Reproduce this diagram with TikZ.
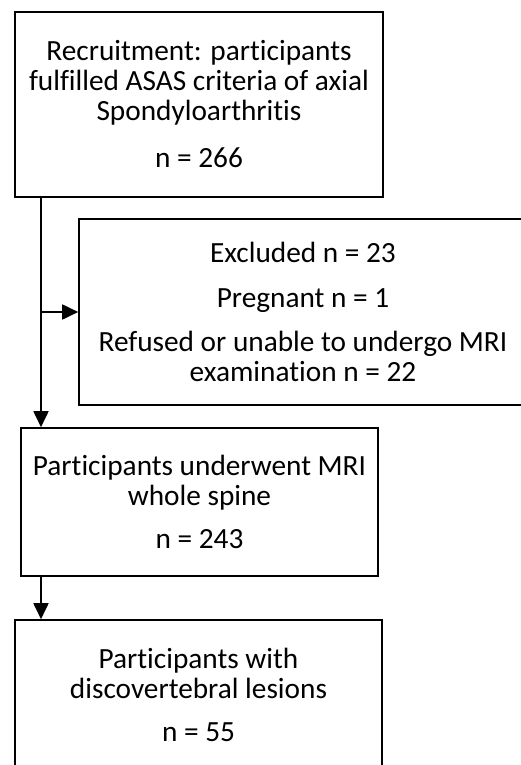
\documentclass[tikz,border=0pt]{standalone}
\usepackage{fontspec}
\setmainfont{Carlito}[RawFeature={-liga;-clig}]
\usepackage{tikz}
\usetikzlibrary{arrows.meta, positioning}

\begin{document}
\begin{tikzpicture}[x=1pt,y=-1pt]
        \useasboundingbox (0,0) rectangle (520,765);
        \begin{scope}[every node/.style={draw=black,line width=1.6pt,rectangle,align=center,inner sep=0pt,
            font=\fontsize{29.3}{30}\selectfont}]
          \node[minimum width=368pt,minimum height=185pt] (rec) at (199,104.5)
            {Recruitment: participants\\fulfilled ASAS criteria of axial\\Spondyloarthritis\\[17pt]n = 266};
          \node[minimum width=448pt,minimum height=186pt] (excl) at (303,312)
            {Excluded n = 23\\[15pt]Pregnant n = 1\\[14pt]Refused or unable to undergo MRI\\examination n = 22};
          \node[minimum width=357pt,minimum height=148pt] (mri) at (199.5,502)
            {Participants underwent MRI\\whole spine\\[13pt]n = 243};
          \node[minimum width=367pt,minimum height=149pt] (les) at (198.5,694.5)
            {Participants with\\discovertebral lesions\\[13pt]n = 55};
        \end{scope}
        \coordinate (split) at (41,312);
        \begin{scope}[every edge/.style={draw=black,line width=1.8pt,-{Triangle[length=16pt,width=15pt]}}]
          \path (rec.south -| split) edge (mri.north -| split);
          \path (split) edge (excl.west);
          \path (mri.south -| split) edge (les.north -| split);
        \end{scope}
      \end{tikzpicture}
\end{document}
